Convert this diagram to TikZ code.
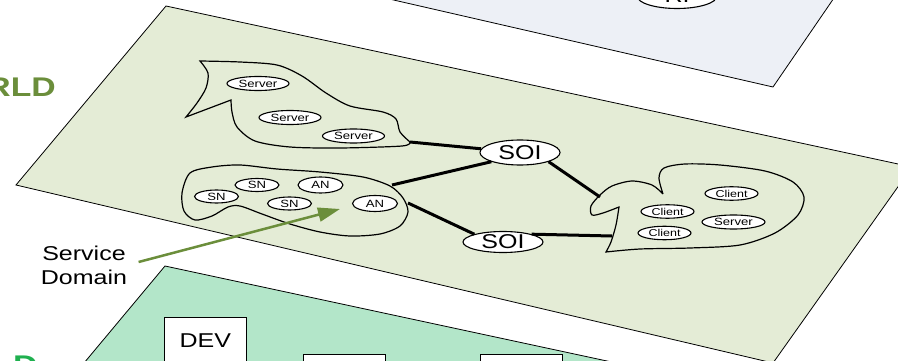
\documentclass[tikz,border=0pt]{standalone}
\usepackage{fontspec}
\setmainfont{Liberation Sans}[FakeStretch=1.25]
\usepackage{tikz}
\usetikzlibrary{
	shapes.geometric,
	arrows.meta
}

\definecolor{skyplane}{HTML}{EDF0F6}
\definecolor{worldplane}{HTML}{E4ECD6}
\definecolor{devplane}{HTML}{B3E6C9}
\definecolor{worldgreen}{HTML}{6B8E3B}
\definecolor{devgreen}{HTML}{1FB04F}

\tikzset{
	plane/.style={draw=black,line width=.8pt},
	svcdomain/.style={draw=black,line width=1.2pt},
	link/.style={line width=3pt},
	host/.style={ellipse,draw,fill=white,line width=1.1pt,inner sep=0pt,
		minimum width=62pt,minimum height=14pt,font=\fontsize{10.5}{12}\selectfont},
	client/.style={host,minimum width=53pt,minimum height=13.5pt,font=\fontsize{10}{12}\selectfont},
	sensor/.style={host,minimum width=44pt,minimum height=13pt},
	actor/.style={host,minimum width=45pt,minimum height=16pt},
	soi/.style={ellipse,draw,fill=white,line width=1.1pt,inner sep=0pt,
		minimum width=80pt,minimum height=25pt,font=\fontsize{20}{22}\selectfont},
	devbox/.style={draw,fill=white,line width=.8pt,minimum width=82pt,inner ysep=0pt,
		text height=30pt,text depth=50pt,anchor=north west,font=\fontsize{20}{22}\selectfont},
	pointer/.style={draw=worldgreen,line width=2.5pt,-{Triangle[length=22pt,width=14pt]}}
}

\begin{document}
\begin{tikzpicture}[x=1pt,y=-1pt]
	\useasboundingbox (0,0) rectangle (898,361);
	\clip (0,0) rectangle (898,361);

	% planes, back to front
	\filldraw[plane,fill=skyplane]   (773,87) -- (350,-10) -- (340,-40) -- (860,-40) -- cycle;
	\filldraw[plane,fill=worldplane] (166,6) -- (912,167) -- (773,363) -- (16,185) -- cycle;
	\filldraw[plane,fill=devplane]   (165,266) -- (700,381) -- (69,381) -- cycle;

	\node[soi] (ri) at (677,-4) {RI};
	\node[anchor=base east,inner sep=0pt,text=worldgreen,
		font=\fontsize{27}{30}\selectfont\bfseries] (world) at (56,97) {WORLD};
	\node[anchor=base west,inner sep=0pt,text=devgreen,
		font=\fontsize{27}{30}\selectfont\bfseries] (devworld) at (13,374) {D};

	% service domains
	\draw[svcdomain] plot[smooth] coordinates {(186,117) (197,103) (206,88) (208,73) (200,61)}
		-- plot[smooth] coordinates {(200,61) (240,62) (277,65) (302,76) (326,93) (350,106)
			(383,112) (396,119) (400,132) (410,142)}
		-- plot[smooth] coordinates {(410,142) (402,146) (340,148) (290,147) (255,141)
			(237,127) (232,112) (231,100)}
		-- cycle;
	\draw[svcdomain] plot[smooth cycle] coordinates {(190,173) (212,167) (240,165) (277,169)
		(320,172) (363,177) (390,186) (403,198) (408,212) (400,226) (380,234) (350,236)
		(320,232) (290,224) (262,214) (240,206) (228,207) (212,216) (195,220) (184,211) (182,193)};
	\draw[svcdomain] plot[smooth] coordinates {(663,194) (652,185) (632,181) (612,186) (600,195)
			(591,206) (592,215) (603,213) (619,207)}
		-- plot[smooth] coordinates {(619,207) (616,225) (611,242) (606,252)}
		-- plot[smooth] coordinates {(606,252) (640,249) (690,248) (740,245) (775,233)
			(798,215) (804,197) (793,182) (765,171) (720,165) (685,164) (664,168) (659,178)
			(663,194)};

	\coordinate (srvjoin) at (410,142);
	\coordinate (snjoin1) at (392,185);
	\coordinate (snjoin2) at (408,203);
	\coordinate (clijoin1) at (600,197);
	\coordinate (clijoin2) at (612,236);

	\node[host] (srv1) at (258,83.5) {Server};
	\node[host] (srv2) at (290,117.5) {Server};
	\node[host] (srv3) at (353.5,136) {Server};

	\node[sensor] (sn1) at (216.5,196.5) {SN};
	\node[sensor] (sn2) at (257,185) {SN};
	\node[sensor] (sn3) at (289.5,203.5) {SN};
	\node[actor]  (an1) at (320.5,185) {AN};
	\node[actor]  (an2) at (375,203.5) {AN};

	\node[client] (cl1) at (731.5,193.5) {Client};
	\node[client] (cl2) at (667.5,211.5) {Client};
	\node[host,minimum width=63pt] (srv4) at (733.5,222) {Server};
	\node[client] (cl3) at (664.5,233) {Client};

	\node[soi] (soiA) at (520,152.5) {SOI};
	\node[soi,minimum height=21pt] (soiB) at (503,242) {SOI};

	\draw[link] (srvjoin) -- (soiA);
	\draw[link] (snjoin1) -- (soiA.south west);
	\draw[link] (snjoin2) -- (soiB.north west);
	\draw[link] (soiA.south east) -- (clijoin1);
	\draw[link] (soiB.north east) -- (clijoin2);

	% label for the domains
	\node[align=center,font=\fontsize{20}{24}\selectfont] (sd) at (84,265) {Service\\Domain};
	\coordinate (sdtip) at (340,209);
	\draw[pointer] ([shift={(8,-3)}]sd.east) -- (sdtip);

	% devices
	\node[devbox] (dev) at (164,317) {DEV};
	\node[devbox] (dev2) at (303,354) {};
	\node[devbox] (dev3) at (480,354) {};
\end{tikzpicture}
\end{document}
